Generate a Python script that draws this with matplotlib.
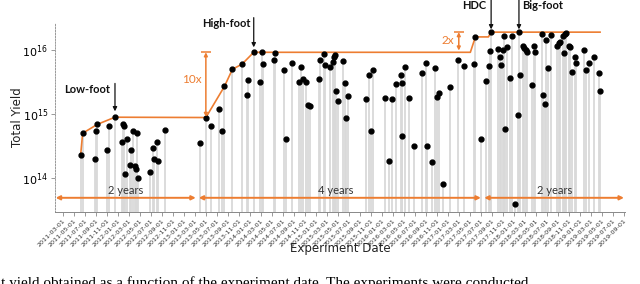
import matplotlib
matplotlib.use('Agg')
import matplotlib.pyplot as plt
import matplotlib.dates as mdates
from matplotlib.ticker import NullLocator
import numpy as np

plt.rcParams['mathtext.fontset'] = 'stix'

# ---- data -------------------------------------------------------------
shot_dates = [
    '2011-06-08', '2011-06-19', '2011-08-25', '2011-09-03', '2011-09-09', '2011-11-01',
    '2011-11-10', '2011-12-15', '2012-01-25', '2012-01-31', '2012-02-05', '2012-02-11',
    '2012-02-18', '2012-03-09', '2012-03-15', '2012-03-21', '2012-04-02', '2012-04-09',
    '2012-04-17', '2012-04-21', '2012-06-24', '2012-07-15', '2012-07-20', '2012-08-02',
    '2012-08-09', '2012-09-19', '2013-03-28', '2013-05-01', '2013-05-30', '2013-07-10',
    '2013-08-01', '2013-08-12', '2013-09-25', '2013-11-17', '2013-12-13', '2013-12-20',
    '2014-01-21', '2014-02-25', '2014-03-05', '2014-03-12', '2014-05-12', '2014-05-19',
    '2014-07-06', '2014-07-21', '2014-08-20', '2014-09-27', '2014-10-07', '2014-10-18',
    '2014-11-07', '2014-11-15', '2014-11-26', '2015-01-16', '2015-01-22', '2015-02-13',
    '2015-02-18', '2015-03-20', '2015-04-04', '2015-04-11', '2015-04-16', '2015-04-22',
    '2015-04-30', '2015-05-30', '2015-06-11', '2015-06-16', '2015-06-26', '2015-10-07',
    '2015-10-20', '2015-11-02', '2015-11-11', '2016-01-20', '2016-02-08', '2016-02-24',
    '2016-03-16', '2016-04-14', '2016-04-20', '2016-04-21', '2016-05-10', '2016-06-01',
    '2016-06-25', '2016-08-07', '2016-08-29', '2016-09-07', '2016-10-04', '2016-10-23',
    '2016-10-31', '2016-11-13', '2016-12-04', '2017-01-10', '2017-02-25', '2017-03-29',
    '2017-05-25', '2017-06-01', '2017-07-01', '2017-07-31', '2017-08-13', '2017-08-21',
    '2017-08-27', '2017-10-03', '2017-10-13', '2017-10-21', '2017-10-30', '2017-11-07',
    '2017-11-13', '2017-11-22', '2017-12-10', '2017-12-20', '2018-01-08', '2018-01-21',
    '2018-01-28', '2018-02-04', '2018-02-19', '2018-02-27', '2018-03-06', '2018-03-15',
    '2018-04-10', '2018-04-23', '2018-04-29', '2018-06-07', '2018-06-11', '2018-06-19',
    '2018-06-26', '2018-07-09', '2018-07-24', '2018-08-27', '2018-09-05', '2018-09-13',
    '2018-09-29', '2018-10-05', '2018-10-12', '2018-10-16', '2018-10-30', '2018-11-09',
    '2018-11-18', '2018-12-02', '2018-12-11', '2019-01-21', '2019-02-03', '2019-02-18',
    '2019-03-18', '2019-04-17', '2019-04-22',
]
shot_yields = [
    2.3e14, 5.0e14, 2.0e14, 5.4e14, 6.9e14, 2.7e14,
    6.6e14, 8.9e14, 3.7e14, 6.9e14, 6.5e14, 1.17e14,
    4.1e14, 1.6e14, 2.7e14, 5.4e14, 1.56e14, 1.36e14,
    5.1e14, 1.0e14, 1.25e14, 2.9e14, 1.96e14, 3.6e14,
    1.85e14, 5.6e14, 3.5e14, 8.7e14, 6.5e14, 1.2e15,
    5.4e14, 2.7e15, 5.0e15, 6.0e15, 2.0e15, 3.4e15,
    9.2e15, 3.2e15, 9.2e15, 6.0e15, 7.1e15, 8.9e15,
    4.8e15, 4.0e14, 6.3e15, 3.2e15, 5.4e15, 3.5e15,
    3.2e15, 1.4e15, 1.35e15, 3.5e15, 7.1e15, 8.7e15,
    5.8e15, 5.4e15, 6.6e15, 7.9e15, 8.3e15, 2.3e15,
    1.6e15, 6.7e15, 3.1e15, 8.8e14, 1.9e15, 1.7e15,
    4.0e15, 5.4e14, 4.9e15, 1.8e15, 1.86e14, 1.7e15,
    2.9e15, 4.0e15, 4.6e14, 3.1e15, 5.5e15, 1.8e15,
    3.2e14, 4.4e15, 6.3e15, 3.2e14, 1.8e14, 5.3e15,
    1.85e15, 2.15e15, 8.1e13, 2.6e15, 7.1e15, 5.7e15,
    6.0e15, 1.6e16, 4.1e14, 3.3e15, 5.7e15, 9.6e15,
    1.9e16, 1.05e16, 7.9e15, 5.8e15, 1.0e16, 1.66e16,
    5.8e14, 1.1e16, 3.6e15, 1.67e16, 3.9e13, 9.6e14,
    1.9e16, 4.0e15, 1.15e16, 1.07e16, 1.0e16, 9.2e15,
    2.8e15, 1.15e16, 9.3e15, 1.8e16, 2.0e15, 1.45e15,
    1.45e16, 5.2e15, 1.7e16, 1.15e16, 1.3e16, 1.35e16,
    1.67e16, 8.9e15, 1.8e16, 1.85e16, 1.15e16, 1.1e16,
    4.6e15, 7.9e15, 6.2e15, 1.0e16, 4.9e15, 6.3e15,
    7.7e15, 4.3e15, 2.3e15,
]

# record (running best) envelope
record_dates = ['2011-06-08', '2011-06-19', '2011-09-09', '2011-12-15', '2013-05-01',
                '2013-08-12', '2013-09-25', '2013-11-17', '2014-01-21', '2017-05-04',
                '2017-06-01', '2017-08-12', '2017-08-27', '2019-04-22']
record_yields = [2.3e14, 5.0e14, 6.9e14, 8.9e14, 8.8e14,
                 2.7e15, 5.0e15, 6.0e15, 9.2e15, 9.2e15,
                 1.6e16, 1.6e16, 1.9e16, 1.9e16]

# campaign spans (start, end, label, label centre)
spans = [('2011-01-21', '2013-03-06', '2 years', '2012-02-13'),
         ('2013-03-23', '2017-07-01', '4 years', '2015-04-18'),
         ('2017-07-20', '2019-09-01', '2 years', '2018-08-12')]

ORANGE = '#ed7d31'


def d(s):
    return mdates.date2num(np.datetime64(s))


x = [d(s) for s in shot_dates]
rx = [d(s) for s in record_dates]

fig = plt.figure(figsize=(6.4, 2.84), dpi=100)
ax = fig.add_axes([55 / 640, 1 - 212 / 284, 570 / 640, 189 / 284])
ax.set_yscale('log')
ymin, ymax = 2.94e13, 2.64e16
ax.set_ylim(ymin, ymax)
ax.set_xlim(d('2011-01-17'), d('2019-09-07'))

ax.vlines(x, ymin, shot_yields, colors='#d9d9d9', lw=1.3, zorder=1)
ax.plot(rx, record_yields, color=ORANGE, lw=1.2, zorder=2)
ax.plot(x, shot_yields, 'o', color='black', ms=3.5, zorder=3)

# ticks
ax.xaxis.set_major_locator(mdates.MonthLocator(bymonth=[1, 3, 5, 7, 9, 11], bymonthday=1))
ax.xaxis.set_major_formatter(mdates.DateFormatter('%Y-%m-%d'))
plt.setp(ax.get_xticklabels(), rotation=45, ha='right', rotation_mode='anchor',
         fontsize=4.6, color='#333333')
ax.set_yticks([1e14, 1e15, 1e16])
ax.yaxis.set_minor_locator(NullLocator())
ax.tick_params(axis='y', labelsize=8, length=3, color='#888888', width=0.6, pad=2)
ax.tick_params(axis='x', length=3, color='#888888', width=0.6, pad=1.5)

for s in ['top', 'right']:
    ax.spines[s].set_visible(False)
ax.spines['left'].set_color('#999999')
ax.spines['left'].set_linestyle((0, (1.5, 1.5)))
ax.spines['left'].set_linewidth(0.7)
ax.spines['bottom'].set_color('#888888')
ax.spines['bottom'].set_linewidth(0.7)

ax.set_xlabel('Experiment Date', fontsize=8.5, color='#222222')
ax.xaxis.label.set_va('center')
ax.xaxis.set_label_coords(0.5, -0.195)
ax.set_ylabel('Total Yield', fontsize=8.5, color='#222222')
ax.yaxis.label.set_va('center')
ax.yaxis.set_label_coords(-0.066, 0.5)

# campaign span arrows
y_arr = 4.9e13
for s, e, lab, c in spans:
    ax.annotate('', xy=(d(e), y_arr), xytext=(d(s), y_arr),
                arrowprops=dict(arrowstyle='<|-|>', color=ORANGE, lw=1.4,
                                mutation_scale=6, shrinkA=0, shrinkB=0))
    ax.text(d(c), 6.3e13, lab, ha='center', va='center', fontsize=8,
            family='Lato', color='#333333')

# design labels with arrows
labels = [('Low-foot', '2011-12-15', 3.0e15, 1.1e15, '2011-11-17', 2.45e15, 'right'),
          ('High-foot', '2014-01-21', 3.2e16, 1.1e16, '2014-01-05', 2.55e16, 'right'),
          ('HDC', '2017-08-27', 6.2e16, 2.1e16, '2017-07-29', 4.95e16, 'right'),
          ('Big-foot', '2018-01-28', 6.2e16, 2.1e16, '2018-02-14', 4.95e16, 'left')]
for lab, xd, y0, y1, tx, ty, ha in labels:
    ax.annotate('', xy=(d(xd), y1), xytext=(d(xd), y0), annotation_clip=False,
                arrowprops=dict(arrowstyle='-|>', color='#111111', lw=0.9,
                                mutation_scale=6, shrinkA=0, shrinkB=0))
    ax.text(d(tx), ty, lab, ha=ha, va='center', fontsize=8, fontweight='bold',
            family='Lato', color='#111111', clip_on=False)

# factor arrows
factors = [('10x', '2013-05-01', 9.2e15, 9.0e14, '2013-02-10', 3.4e15),
           ('2x', '2017-03-01', 1.9e16, 9.8e15, '2016-12-31', 1.4e16)]
for lab, xd, ytop, ybot, tx, ty in factors:
    ax.annotate('', xy=(d(xd), ybot), xytext=(d(xd), ytop),
                arrowprops=dict(arrowstyle='<|-|>', color=ORANGE, lw=1.1,
                                mutation_scale=5, shrinkA=0, shrinkB=0))
    ax.plot([d(xd)], [ytop], marker='_', ms=7, mew=1.1, color=ORANGE)
    ax.text(d(tx), ty, lab, ha='center', va='center', fontsize=8.5,
            family='Lato', color=ORANGE)

# caption of the source page, cut at the bottom edge as in the reference
fig.text(0.002, -3.0 / 284,
         't yield obtained as a function of the experiment date. The experiments were conducted',
         family='Liberation Serif', fontsize=11, va='baseline', ha='left', color='black')

fig.savefig('out.png', dpi=100)
